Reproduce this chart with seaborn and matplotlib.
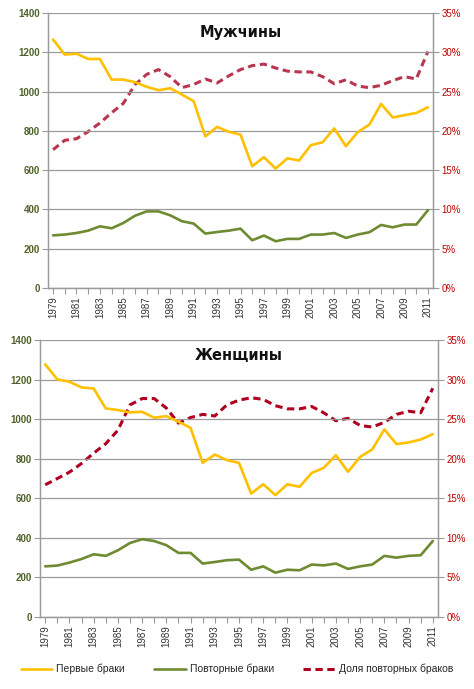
import matplotlib
matplotlib.use("Agg")
import matplotlib.pyplot as plt
import seaborn as sns
import pandas as pd
import numpy as np
from matplotlib.ticker import MultipleLocator, FuncFormatter
from matplotlib.lines import Line2D

years = list(range(1979, 2012))

men_first = [1265, 1188, 1193, 1166, 1166, 1061, 1061, 1048, 1024, 1007, 1017, 985, 951,
             772, 820, 795, 781, 620, 666, 608, 660, 649, 727, 742, 812, 722, 793, 832,
             937, 868, 880, 891, 920]
men_repeat = [268, 272, 280, 292, 314, 304, 331, 368, 390, 390, 370, 340, 328,
              277, 285, 292, 302, 243, 267, 238, 250, 250, 272, 272, 280, 255, 272, 284,
              321, 309, 323, 323, 396]
men_share = [17.6, 18.8, 19.0, 19.9, 21.0, 22.3, 23.5, 25.9, 27.2, 27.8, 26.9, 25.5, 25.9,
             26.6, 26.1, 27.0, 27.8, 28.3, 28.5, 28.0, 27.6, 27.5, 27.5, 26.9, 26.0, 26.5,
             25.7, 25.5, 25.8, 26.4, 26.9, 26.6, 30.1]

women_first = [1277, 1201, 1189, 1160, 1155, 1054, 1046, 1034, 1037, 1007, 1015, 987, 956,
               779, 821, 793, 779, 624, 671, 616, 671, 658, 728, 754, 818, 734, 809, 847,
               948, 874, 882, 897, 924]
women_repeat = [256, 260, 275, 293, 317, 309, 337, 374, 393, 384, 363, 324, 324,
                270, 278, 287, 290, 239, 256, 224, 239, 236, 265, 261, 270, 243, 256, 265,
                309, 300, 309, 312, 384]
women_share = [16.7, 17.5, 18.3, 19.4, 20.7, 21.9, 23.6, 26.8, 27.6, 27.6, 26.4, 24.5, 25.2,
               25.6, 25.4, 26.8, 27.4, 27.7, 27.5, 26.7, 26.3, 26.3, 26.6, 25.8, 24.8, 25.1,
               24.2, 24.0, 24.6, 25.6, 26.0, 25.8, 28.9]

titles = ["Мужчины", "Женщины"]
legend_labels = ["Первые браки", "Повторные браки", "Доля повторных браков"]

YELLOW = "#FFC000"
GREEN = "#6E8B32"
RED_M = "#B8364F"
RED_W = "#B00020"
LEFT_TC = "#4F6228"
RIGHT_TC = "#C00000"
GRID = "#9A9A9A"

sns.set_theme(style="white")
plt.rcParams['font.family'] = ['Liberation Sans', 'DejaVu Sans']

fig = plt.figure(figsize=(4.74, 6.89), dpi=100)

panels = [
    (titles[0], men_first, men_repeat, men_share, RED_M, [48/474, 1-288/689, 385/474, 275/689], 0.93),
    (titles[1], women_first, women_repeat, women_share, RED_W, [40/474, 1-617/689, 398/474, 277/689], 0.945),
]

DASH = (0, (2.4, 1.5))

for title, first, repeat, share, redc, rect, ty in panels:
    df = pd.DataFrame({"year": years, "first": first, "repeat": repeat, "share": share})
    ax = fig.add_axes(rect)
    ax2 = ax.twinx()
    ax.set_zorder(ax2.get_zorder() + 1)
    ax.patch.set_visible(False)

    sns.lineplot(data=df, x="year", y="share", ax=ax2, color=redc, lw=2.2, linestyle=DASH)
    sns.lineplot(data=df, x="year", y="first", ax=ax, color=YELLOW, lw=1.9)
    sns.lineplot(data=df, x="year", y="repeat", ax=ax, color=GREEN, lw=1.9)

    ax.set_xlim(1978.57, 2011.43)
    ax.set_ylim(0, 1400)
    ax2.set_ylim(0, 35)
    ax.set_xlabel("")
    ax.set_ylabel("")
    ax2.set_ylabel("")

    ax.yaxis.set_major_locator(MultipleLocator(200))
    ax2.yaxis.set_major_locator(MultipleLocator(5))
    ax2.yaxis.set_major_formatter(FuncFormatter(lambda v, p: f"{int(v)}%"))
    ax.set_xticks(years[::2])
    ax.set_xticklabels([str(y) for y in years[::2]], rotation=90)
    ax.set_xticks(years, minor=True)

    ax.grid(axis="y", color=GRID, lw=0.9)
    ax2.grid(False)

    for a in (ax, ax2):
        for s in a.spines.values():
            s.set_color("#9A9A9A")
            s.set_linewidth(0.9)
        a.spines["top"].set_visible(False)

    ax.tick_params(axis="y", which="major", length=4, width=0.8, color="#9A9A9A",
                   labelsize=7, labelcolor=LEFT_TC, left=True, pad=2)
    for t in ax.get_yticklabels():
        t.set_fontweight("bold")
    ax2.tick_params(axis="y", which="major", length=4, width=0.8, color="#9A9A9A",
                    labelsize=7, labelcolor=RIGHT_TC, right=True, pad=2)
    ax.tick_params(axis="x", which="both", length=4, width=0.8, color="#9A9A9A",
                   labelsize=7, labelcolor="#333333", bottom=True, pad=2)

    ax.text(0.5, ty, title, transform=ax.transAxes, ha="center", va="center",
            fontsize=10.5, fontweight="bold", color="#111111",
            family=["DejaVu Sans"])

handles = [Line2D([], [], color=YELLOW, lw=1.9),
           Line2D([], [], color=GREEN, lw=1.9),
           Line2D([], [], color=RED_W, lw=2.2, linestyle=DASH)]
fig.legend(handles, legend_labels, loc="center", bbox_to_anchor=(0.5, 1-669/689),
           ncol=3, frameon=False, fontsize=7.5, handlelength=3.0, handletextpad=0.4,
           columnspacing=2.8)

fig.savefig("out.png", dpi=100)
